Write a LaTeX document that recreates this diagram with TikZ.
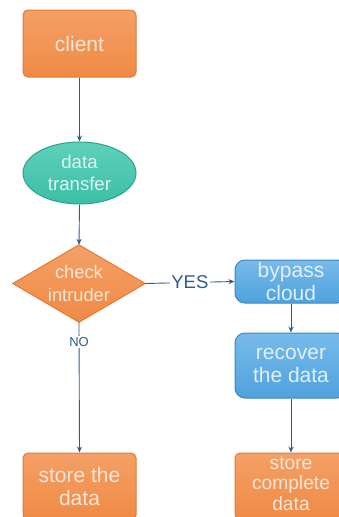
\documentclass[tikz,border=0pt]{standalone}
\usepackage{fontspec}
\setmainfont{Liberation Sans}
\usetikzlibrary{arrows.meta,shapes.geometric}

\definecolor{orangeFill}{HTML}{F08A45}
\definecolor{orangeTop}{HTML}{F4A066}
\definecolor{orangeEdge}{HTML}{E47A34}
\definecolor{orangeText}{HTML}{FCE6D8}
\definecolor{tealFill}{HTML}{3CBFA6}
\definecolor{tealTop}{HTML}{5FD0BA}
\definecolor{tealEdge}{HTML}{27A58C}
\definecolor{tealText}{HTML}{DDF5F0}
\definecolor{blueFill}{HTML}{4FA2DD}
\definecolor{blueTop}{HTML}{78BAEA}
\definecolor{blueEdge}{HTML}{3A87C6}
\definecolor{blueText}{HTML}{E2EFFA}
\definecolor{linkBlue}{HTML}{2E5C8A}

\tikzset{
  flowlink/.style={draw=linkBlue, line width=0.9pt, -{Stealth[length=6pt,width=5pt]}},
  orangebox/.style={rectangle, rounded corners=5pt, draw=orangeEdge, line width=1pt,
    top color=orangeTop, bottom color=orangeFill, text=orangeText, align=center,
    font=\fontsize{21}{23.5}\selectfont, inner sep=0pt},
  tealoval/.style={ellipse, draw=tealEdge, line width=1pt,
    top color=tealTop, bottom color=tealFill, text=tealText, align=center,
    font=\fontsize{18.6}{22}\selectfont, inner sep=0pt},
  bluebox/.style={rectangle, rounded corners=10pt, draw=blueEdge, line width=1pt,
    top color=blueTop, bottom color=blueFill, text=blueText, align=center,
    font=\fontsize{21}{22.5}\selectfont, inner sep=0pt},
  decisionarea/.style={rectangle, minimum width=132pt, minimum height=77pt, inner sep=0pt,
    text=orangeText, align=center, font=\fontsize{18.3}{23}\selectfont},
  edgelabel/.style={fill=white, text=linkBlue, inner sep=1.5pt}
}

\begin{document}
\begin{tikzpicture}[x=1pt,y=-1pt]
  \useasboundingbox (0,0) rectangle (339,517);
  \clip (0,0) rectangle (339,517);

  % left column
  \node[orangebox, minimum width=113pt, minimum height=67pt] (client) at (79.5,43.5) {client};
  \node[tealoval, minimum width=113pt, minimum height=62pt] (transfer) at (79.5,173) {data\\transfer};

  % decision diamond drawn through the anchors of an invisible box
  \node[decisionarea] (check) at (79,283.5) {};
  \shade[top color=orangeTop, bottom color=orangeFill, draw=orangeEdge, line width=1pt]
    (check.north) -- (check.east) -- (check.south) -- (check.west) -- cycle;
  \node[decisionarea] at (check.center) {check\\intruder};

  \node[orangebox, minimum width=113pt, minimum height=67pt] (storeA) at (79.5,486.5) {store the\\data};

  % right column
  \node[bluebox, minimum width=112pt, minimum height=43pt] (bypass) at (291,281.5) {bypass\\cloud};
  \node[bluebox, minimum width=112pt, minimum height=65pt] (recover) at (291,365.5) {recover\\the data};
  \node[orangebox, minimum width=112pt, minimum height=67pt] (storeB) at (291,486.5) {};
  \node[text=orangeText, align=center, inner sep=0pt, font=\fontsize{19.2}{20.5}\selectfont]
    (storeBtext) at ([yshift=3pt]storeB.center) {store\\complete\\data};

  % connectors
  \draw[flowlink] (client.south) -- (transfer.north);
  \draw[flowlink] (transfer.south) -- (check.north);
  \draw[flowlink] (check.east) -- node[edgelabel, font=\fontsize{18.5}{20}\selectfont] {YES} (bypass.west);
  \draw[flowlink] (check.south) -- node[edgelabel, pos=0.15, font=\fontsize{13}{14}\selectfont] {NO} (storeA.north);
  \draw[flowlink] (bypass.south) -- (recover.north);
  \draw[flowlink] (recover.south) -- (storeB.north);
\end{tikzpicture}
\end{document}
